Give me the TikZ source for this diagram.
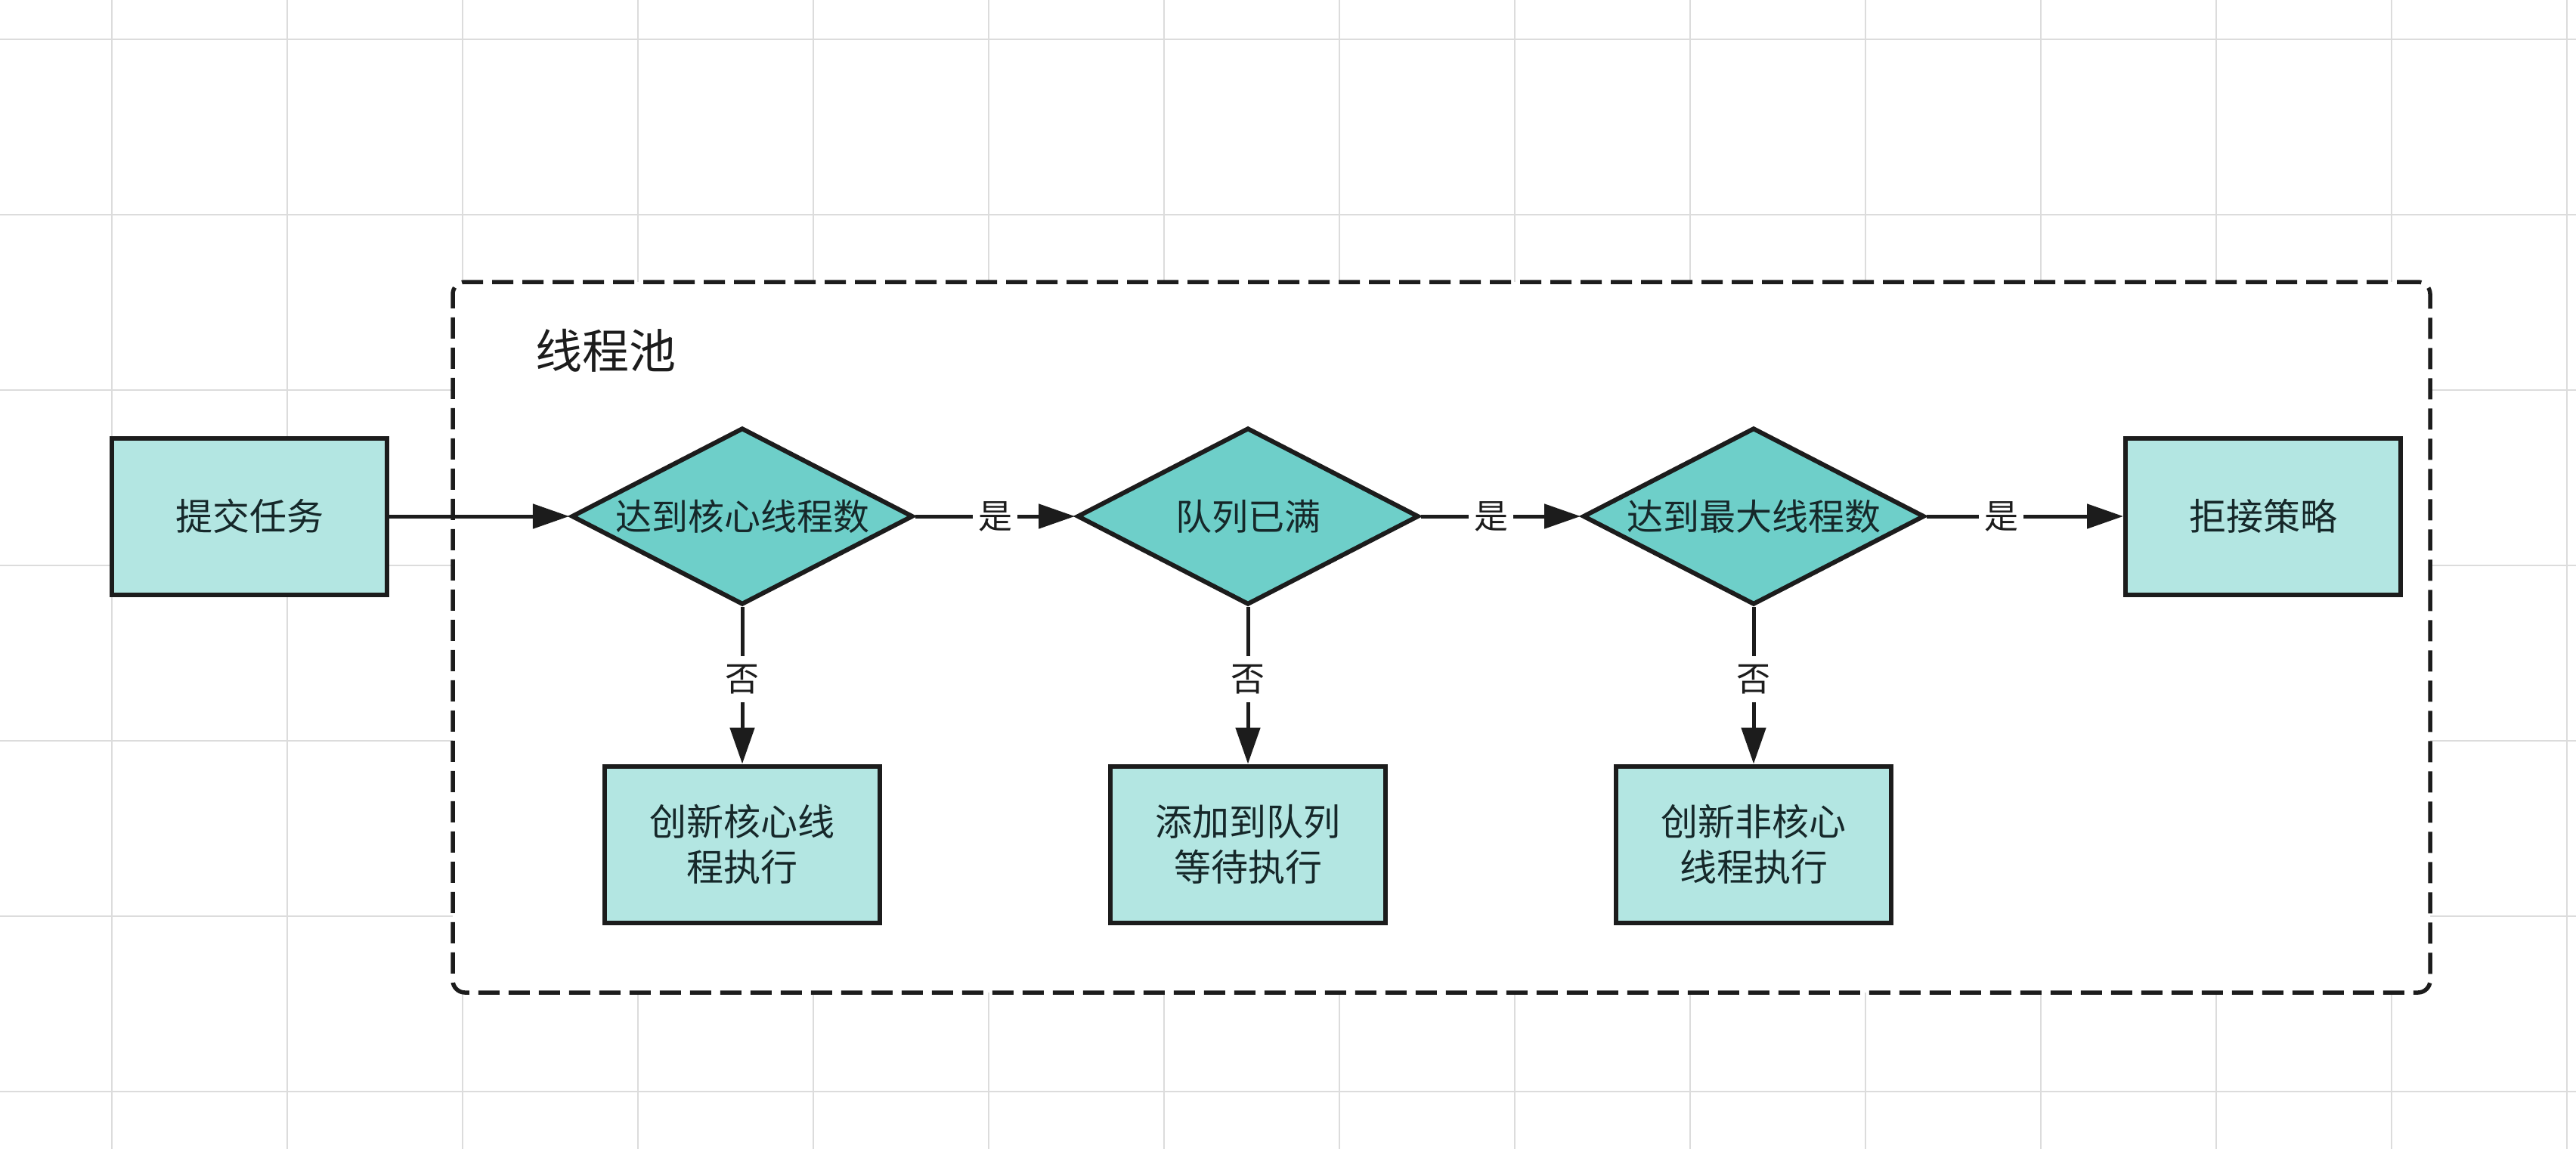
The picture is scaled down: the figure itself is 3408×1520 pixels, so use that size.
\documentclass[tikz,border=0pt]{standalone}
\usepackage{fontspec}
\setmainfont{Noto Sans CJK SC}
\usetikzlibrary{shapes.geometric,arrows.meta}
\definecolor{boxfill}{RGB}{179,230,226}
\definecolor{dfill}{RGB}{110,207,201}
\definecolor{ink}{RGB}{28,28,28}
\definecolor{txt}{RGB}{22,40,42}
\definecolor{gridc}{RGB}{220,220,220}
\begin{document}
\begin{tikzpicture}[x=1pt,y=-1pt,
  procbox/.style={draw=ink, line width=6pt, fill=boxfill, minimum width=364pt, minimum height=207pt, inner sep=0pt, align=center, font=\fontsize{49}{60}\selectfont, text=txt},
  decide/.style={draw=ink, line width=6pt, fill=dfill, shape=diamond, aspect=2, minimum width=452pt, minimum height=234pt, inner sep=0pt, font=\fontsize{48}{60}\selectfont, text=txt},
  flow/.style={draw=ink, line width=5pt, -{Triangle[length=48pt,width=32pt]}},
  lbl/.style={fill=white, inner xsep=7pt, inner ysep=11pt, font=\fontsize{45}{50}\selectfont, text=ink},
  gridline/.style={draw=gridc, line width=2pt},
  poolbox/.style={draw=ink, line width=5.5pt, dash pattern=on 28pt off 12pt, rounded corners=16pt, fill=white, minimum width=2616pt, minimum height=940pt, inner sep=0pt}]
\useasboundingbox (0,0) rectangle (3408,1520);
\fill[white] (0,0) rectangle (3408,1520);
% background grid
\foreach \gx in {148,380,612,844,1076,1308,1540,1772,2004,2236,2468,2700,2932,3164,3396}
  \draw[gridline] (\gx,0) -- (\gx,1520);
\foreach \gy in {52,284,516,748,980,1212,1444}
  \draw[gridline] (0,\gy) -- (3408,\gy);
% thread pool container
\node[poolbox] (pool) at (1907,843) {};
\node[font=\fontsize{62}{70}\selectfont, text=ink, inner sep=0pt] (pooltitle) at (801,464) {线程池};
% nodes
\node[procbox] (submit) at (330,683) {提交任务};
\node[decide] (d1) at (982,683) {达到核心线程数};
\node[decide] (d2) at (1651,683) {队列已满};
\node[decide] (d3) at (2320,683) {达到最大线程数};
\node[procbox] (reject) at (2994,683) {拒接策略};
\node[procbox] (b1) at (982,1117) {创新核心线\\程执行};
\node[procbox] (b2) at (1651,1117) {添加到队列\\等待执行};
\node[procbox] (b3) at (2320,1117) {创新非核心\\线程执行};
% connectors
\draw[flow] (submit) -- (d1);
\draw[flow] (d1) -- node[lbl, pos=0.5] {是} (d2);
\draw[flow] (d2) -- node[lbl, pos=0.44] {是} (d3);
\draw[flow] (d3) -- node[lbl, pos=0.38] {是} (reject);
\draw[flow] (d1) -- node[lbl, pos=0.46] {否} (b1);
\draw[flow] (d2) -- node[lbl, pos=0.46] {否} (b2);
\draw[flow] (d3) -- node[lbl, pos=0.46] {否} (b3);
\end{tikzpicture}
\end{document}
